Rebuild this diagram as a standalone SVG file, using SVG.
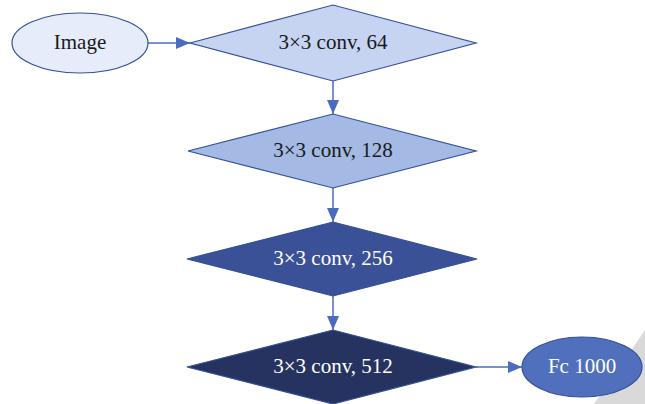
<svg xmlns="http://www.w3.org/2000/svg" width="645" height="404" viewBox="0 0 645 404">
<defs>
<marker id="arr" markerWidth="14" markerHeight="12" refX="14" refY="6" orient="auto" markerUnits="userSpaceOnUse">
<path d="M0,0 L14,6 L0,12 Z" fill="#4a6cbe"/>
</marker>
<style>
.lbl{font-family:"Liberation Serif","Times New Roman",serif;font-size:21px;text-anchor:middle;dominant-baseline:central}
.dk{fill:#1a1a1a}
.wt{fill:#ffffff}
.shape{stroke:#34509a;stroke-width:1.2}
.conn{stroke:#4a6cbe;stroke-width:1.5;fill:none}
</style>
</defs>
<rect width="645" height="404" fill="#ffffff"/>
<polygon points="594,404 645,330 645,404" fill="#d9d9d9"/>
<g id="connectors">
<line class="conn" x1="148" y1="43" x2="190" y2="43" marker-end="url(#arr)"/>
<line class="conn" x1="333" y1="81" x2="333" y2="114" marker-end="url(#arr)"/>
<line class="conn" x1="333" y1="188" x2="333" y2="222" marker-end="url(#arr)"/>
<line class="conn" x1="333" y1="296" x2="333" y2="330" marker-end="url(#arr)"/>
<line class="conn" x1="476" y1="367" x2="522" y2="367" marker-end="url(#arr)"/>
</g>
<g id="image">
<ellipse class="shape" cx="80" cy="43" rx="68" ry="30" fill="#e6ecfa"/>
<text class="lbl dk" x="80" y="42">Image</text>
</g>
<g id="conv64">
<polygon class="shape" points="190,43 333,5 476,43 333,81" fill="#c6d4f1"/>
<text class="lbl dk" x="333" y="42">3×3 conv, 64</text>
</g>
<g id="conv128">
<polygon class="shape" points="188,151 333,114 476,151 333,188" fill="#a4b9e4"/>
<text class="lbl dk" x="333" y="150">3×3 conv, 128</text>
</g>
<g id="conv256">
<polygon class="shape" points="187,259 333,222 477,259 333,296" fill="#3a5197"/>
<text class="lbl wt" x="333" y="258">3×3 conv, 256</text>
</g>
<g id="conv512">
<polygon class="shape" points="187,367 333,330 476,367 333,404" fill="#263360"/>
<text class="lbl wt" x="333" y="366">3×3 conv, 512</text>
</g>
<g id="fc1000">
<ellipse class="shape" cx="582" cy="367" rx="60" ry="30" fill="#5070bd"/>
<text class="lbl wt" x="582" y="366">Fc 1000</text>
</g>
</svg>
